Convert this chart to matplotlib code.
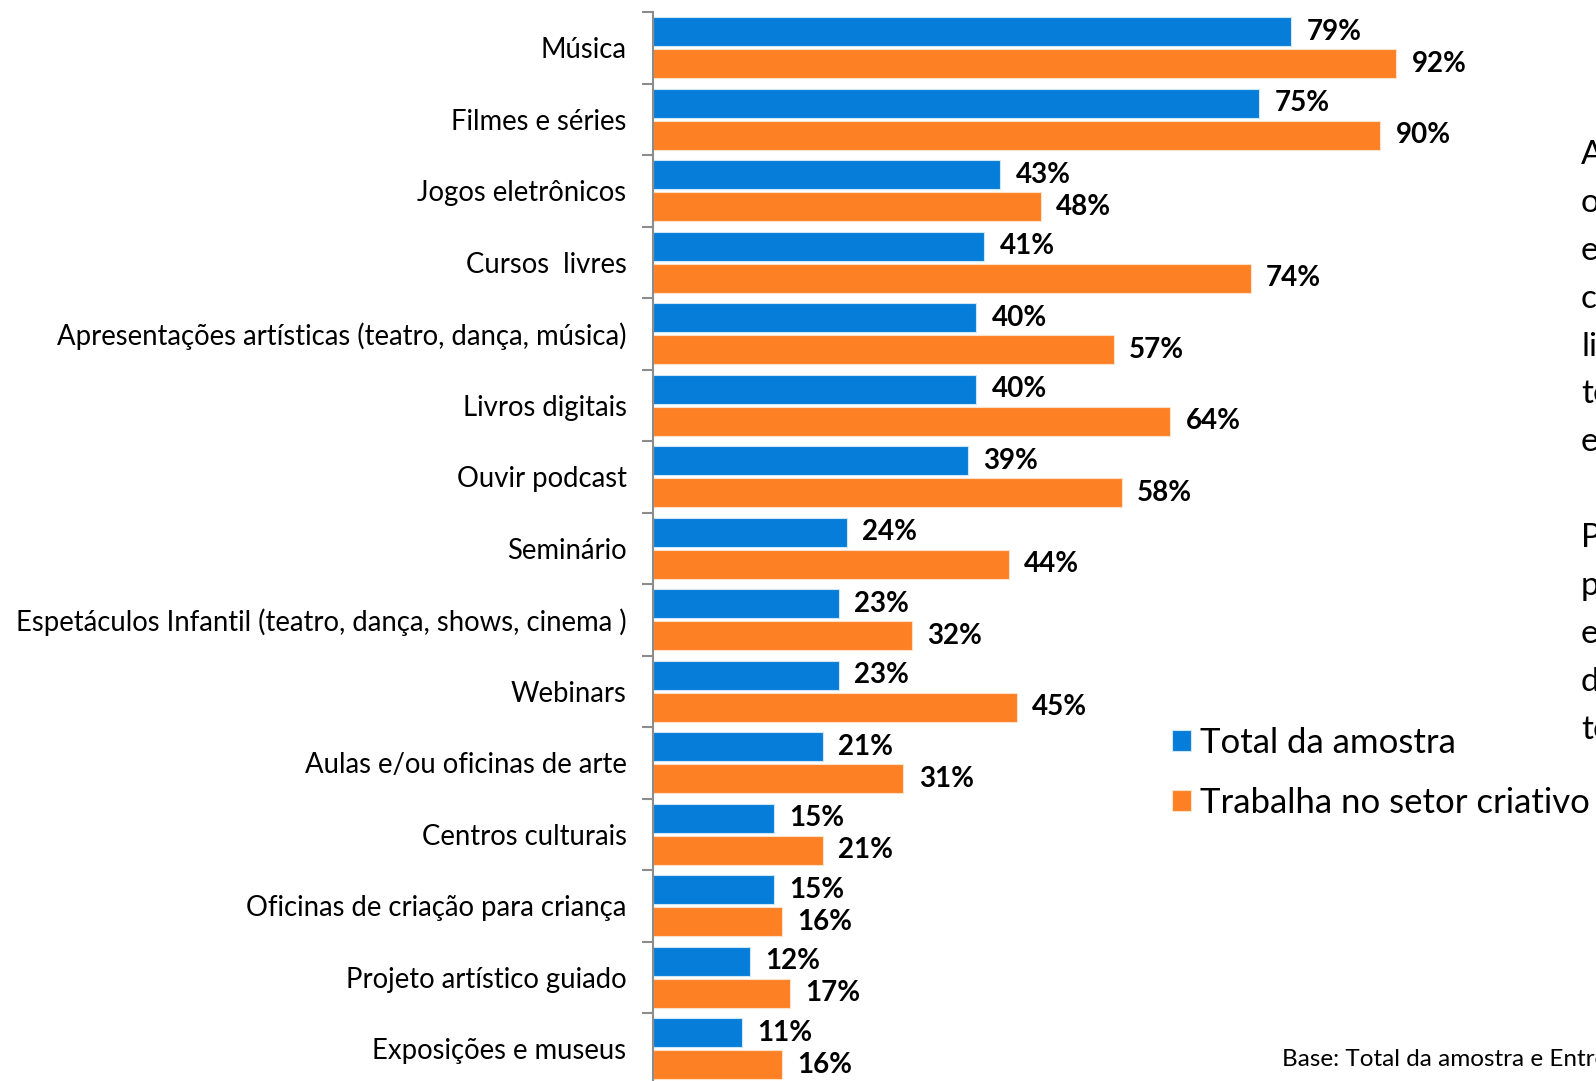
import matplotlib.pyplot as plt
import numpy as np

plt.rcParams['font.family'] = ['Lato', 'DejaVu Sans']

categorias = ["Música", "Filmes e séries", "Jogos eletrônicos", "Cursos  livres",
              "Apresentações artísticas (teatro, dança, música)", "Livros digitais",
              "Ouvir podcast", "Seminário",
              "Espetáculos Infantil (teatro, dança, shows, cinema )", "Webinars",
              "Aulas e/ou oficinas de arte", "Centros culturais",
              "Oficinas de criação para criança", "Projeto artístico guiado",
              "Exposições e museus"]
total_amostra = [79, 75, 43, 41, 40, 40, 39, 24, 23, 23, 21, 15, 15, 12, 11]
setor_criativo = [92, 90, 48, 74, 57, 64, 58, 44, 32, 45, 31, 21, 16, 17, 16]
series_nomes = ["Total da amostra", "Trabalha no setor criativo"]

azul = '#067DD8'
laranja = '#FD8024'

W, H = 1596, 1081
fig = plt.figure(figsize=(W / 100, H / 100), dpi=100)
ax_left = 653 / W
ax_top = 1 - 12 / H
ax_bottom = -3.5 / H
ax = fig.add_axes([ax_left, ax_bottom, 1 - ax_left, ax_top - ax_bottom])

n = len(categorias)
y = np.arange(n)
h = 0.41
off = 0.225
b1 = ax.barh(y - off, total_amostra, height=h, color=azul, edgecolor='#cfe6f7', linewidth=0.8,
             label=series_nomes[0])
b2 = ax.barh(y + off, setor_criativo, height=h, color=laranja, edgecolor='#ffe0c8', linewidth=0.8,
             label=series_nomes[1])

for rects, vals in ((b1, total_amostra), (b2, setor_criativo)):
    for r, v in zip(rects, vals):
        ax.annotate(f"{v}%", (r.get_width(), r.get_y() + r.get_height() / 2),
                    xytext=(11, 0), textcoords='offset points', ha='left', va='center',
                    fontsize=20, fontweight='bold', color='black')

ax.set_ylim(n - 0.5, -0.5)
ax.set_xlim(0, (W - 653) / 8.08)

ax.set_yticks(np.arange(n + 1) - 0.5)
ax.set_yticklabels([])
ax.set_yticks(y, minor=True)
ax.set_yticklabels(categorias, minor=True, fontsize=19.8)
ax.tick_params(axis='y', which='major', length=8, width=1.5, color='#8c8c8c', direction='out')
ax.tick_params(axis='y', which='minor', length=0, pad=19)
ax.set_xticks([])
for s in ['top', 'right', 'bottom']:
    ax.spines[s].set_visible(False)
ax.spines['left'].set_color('#8c8c8c')
ax.spines['left'].set_linewidth(1.5)

fig.legend(handles=[b1, b2], labels=series_nomes, loc='upper left',
           bbox_to_anchor=(1158 / W, 1 - 713 / H), frameon=False, fontsize=25,
           handlelength=0.55, handleheight=0.55, handletextpad=0.25, labelspacing=0.8,
           borderaxespad=0)

# texto lateral cortado na borda direita
lado = ["A", "o", "e", "c", "li", "te", "e", "", "P", "p", "e", "d", "te"]
fig.text(1581 / W, 1 - 140 / H, "\n".join(lado), ha='left', va='top', fontsize=24,
         linespacing=1.745, color='black')

fig.text(1282 / W, 1 - 1060 / H, "Base: Total da amostra e Entrevistados", ha='left',
         va='center', fontsize=17.5, color='black')

fig.savefig('out.png', dpi=100)
